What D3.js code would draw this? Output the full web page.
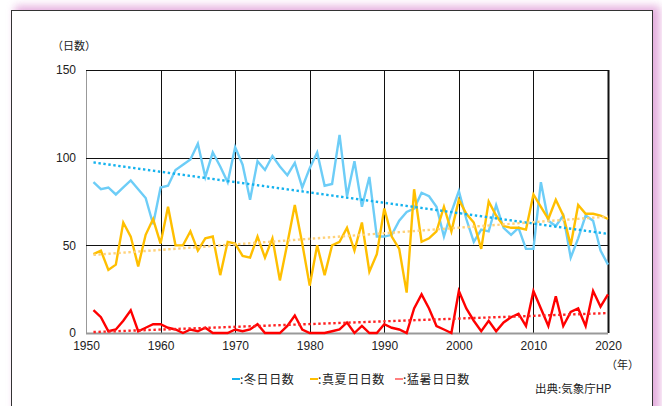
<!DOCTYPE html>
<html>
<head>
<meta charset="utf-8">
<script src="https://cdn.jsdelivr.net/npm/d3@7"></script>
<style>
  body { margin: 0; background: #fff; }
  svg { display: block; }
  text { fill: #222; }
</style>
</head>
<body>
<svg id="chart" width="662" height="406"></svg>
<script>

// 年（1951〜2020）
const firstYear = 1951;
const lastYear = 2020;
const years = d3.range(firstYear, lastYear + 1);

// 冬日日数
const winterDays = [
  86, 82, 83, 79, 83, 87, 82, 77, 62, 83,
  84, 93, 96, 99, 108, 89, 103, 95, 86, 106,
  96, 76, 98, 93, 101, 95, 90, 97, 83, 94,
  103, 84, 85, 113, 78, 98, 72, 89, 55, 55,
  56, 64, 69, 71, 80, 78, 72, 55, 69, 81,
  65, 52, 59, 58, 73, 60, 56, 60, 48, 48,
  86, 64, 61, 67, 43, 54, 67, 64, 47, 39
];

// 真夏日日数
const summerDays = [
  45, 47, 36, 39, 63, 55, 38, 56, 65, 51,
  72, 50, 50, 58, 47, 54, 55, 33, 52, 51,
  44, 43, 55, 43, 54, 30, 51, 73, 51, 27,
  50, 33, 50, 52, 60, 47, 63, 35, 45, 71,
  55, 48, 23, 82, 52, 54, 58, 72, 58, 76,
  68, 63, 48, 75, 67, 61, 60, 60, 59, 79,
  72, 65, 76, 67, 50, 73, 68, 68, 67, 65
];

// 猛暑日日数
const hotDays = [
  13, 9, 1, 2, 7, 13, 1, 3, 5, 5,
  3, 2, 0, 2, 1, 3, 0, 0, 0, 2,
  1, 2, 5, 0, 0, 0, 4, 10, 2, 0,
  0, 0, 1, 2, 6, 0, 4, 0, 0, 5,
  3, 2, 0, 14, 22, 14, 4, 2, 0, 24,
  14, 7, 1, 7, 1, 6, 9, 11, 4, 24,
  14, 4, 21, 4, 12, 14, 4, 24, 15, 22
];

const xTicks = [1950, 1960, 1970, 1980, 1990, 2000, 2010, 2020];
const yTicks = [0, 50, 100, 150];

const series = [
  { name: "冬日日数", values: winterDays, color: "#6dcdf7", trend: "#14b2ee", legend: "#14b2ee" },
  { name: "真夏日日数", values: summerDays, color: "#ffbf00", trend: "#ffd27a", legend: "#ffbf00" },
  { name: "猛暑日日数", values: hotDays, color: "#ff0000", trend: "#ff2020", legend: "#ff8080" }
];

const numFont = "'Liberation Sans Narrow', 'Liberation Sans', Arial, sans-serif";
const jpFont = "'Noto Sans CJK JP', sans-serif";

const svg = d3.select("#chart");
const plotL = 86, plotR = 608, plotT = 70, plotB = 333;

const x = d3.scaleLinear().domain([1950, 2020]).range([plotL, plotR]);
const y = d3.scaleLinear().domain([0, 150]).range([plotB, plotT]);

// 枠と影
const defs = svg.append("defs");
const blur = defs.append("filter").attr("id", "glow")
  .attr("x", "-10%").attr("y", "-10%").attr("width", "120%").attr("height", "120%");
blur.append("feGaussianBlur").attr("stdDeviation", 4);

svg.append("rect")
  .attr("x", 15).attr("y", 6).attr("width", 645).attr("height", 420)
  .attr("fill", "#e0a0d8").attr("opacity", 0.85)
  .attr("filter", "url(#glow)");
svg.append("rect")
  .attr("x", 11.5).attr("y", 10.5).attr("width", 641).attr("height", 420)
  .attr("fill", "#fff").attr("stroke", "#333").attr("stroke-width", 1);

// グリッド
const grid = svg.append("g");
grid.selectAll(".vg").data(xTicks).enter().append("line")
  .attr("x1", d => Math.round(x(d)) + 0.5).attr("x2", d => Math.round(x(d)) + 0.5)
  .attr("y1", plotT).attr("y2", plotB)
  .attr("stroke", d => (d === 1950 ? "#999" : "#111")).attr("stroke-width", d => (d === 2020 ? 2 : 1));
grid.selectAll(".hg").data(yTicks).enter().append("line")
  .attr("x1", plotL).attr("x2", plotR)
  .attr("y1", d => Math.round(y(d)) + 0.5).attr("y2", d => Math.round(y(d)) + 0.5)
  .attr("stroke", d => (d === 0 ? "#999" : "#111")).attr("stroke-width", d => (d === 0 ? 2 : 1));

// 軸ラベル
const xAxis = d3.axisBottom(x).tickValues(xTicks).tickFormat(d3.format("d")).tickSize(0).tickPadding(8);
const xg = svg.append("g").attr("transform", `translate(0,${plotB})`).call(xAxis);
xg.select(".domain").remove();
xg.selectAll("text").attr("font-family", numFont).attr("font-size", 12).attr("fill", "#222");

const yAxis = d3.axisLeft(y).tickValues(yTicks).tickSize(0).tickPadding(10);
const yg = svg.append("g").attr("transform", `translate(${plotL},0)`).call(yAxis);
yg.select(".domain").remove();
yg.selectAll("text").attr("font-family", numFont).attr("font-size", 12).attr("fill", "#222");

svg.append("text").attr("x", 52).attr("y", 50)
  .attr("font-family", jpFont).attr("font-size", 11).text("（日数）");
svg.append("text").attr("x", 606).attr("y", 369)
  .attr("font-family", jpFont).attr("font-size", 11).text("（年）");

// 折れ線
const line = d3.line().x((d, i) => x(years[i])).y(d => y(d));

series.forEach(s => {
  svg.append("path").datum(s.values)
    .attr("fill", "none").attr("stroke", s.color)
    .attr("stroke-width", 2.4).attr("stroke-linejoin", "miter")
    .attr("d", line);
});

// 近似直線（最小二乗法）
function regression(vals) {
  const n = vals.length;
  const mx = d3.mean(years), my = d3.mean(vals);
  let sxy = 0, sxx = 0;
  for (let i = 0; i < n; i++) {
    sxy += (years[i] - mx) * (vals[i] - my);
    sxx += (years[i] - mx) * (years[i] - mx);
  }
  const b = sxy / sxx;
  return yr => my + b * (yr - mx);
}

series.forEach(s => {
  const f = regression(s.values);
  svg.append("line")
    .attr("x1", x(firstYear)).attr("y1", y(f(firstYear)))
    .attr("x2", x(lastYear)).attr("y2", y(f(lastYear)))
    .attr("stroke", s.trend).attr("stroke-width", 2.4)
    .attr("stroke-dasharray", "2.4,2.6");
});

// 凡例
const legendX = [232, 310, 395];
const legend = svg.append("g");
series.forEach((s, i) => {
  legend.append("line")
    .attr("x1", legendX[i]).attr("x2", legendX[i] + 8)
    .attr("y1", 379).attr("y2", 379)
    .attr("stroke", s.legend).attr("stroke-width", 2);
  legend.append("text")
    .attr("x", legendX[i] + 8).attr("y", 383.5)
    .attr("font-family", jpFont).attr("font-size", 12)
    .attr("letter-spacing", 0.6)
    .text(":" + s.name);
});

svg.append("text").attr("x", 535).attr("y", 392.5)
  .attr("font-family", jpFont).attr("font-size", 11.5).text("出典:気象庁HP");

</script>
</body>
</html>
